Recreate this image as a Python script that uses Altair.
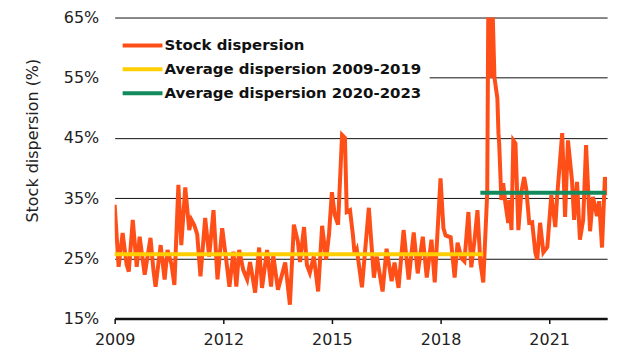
import altair as alt
import pandas as pd

# Stock dispersion (%)
years = [2009.00, 2009.11, 2009.22, 2009.33, 2009.39, 2009.50, 2009.61, 2009.69, 2009.83, 2009.99,
         2010.07, 2010.13, 2010.27, 2010.38, 2010.46, 2010.57, 2010.65, 2010.76, 2010.84, 2010.95,
         2011.06, 2011.12, 2011.20, 2011.28, 2011.37, 2011.50, 2011.61, 2011.73, 2011.84, 2011.97,
         2012.08, 2012.17, 2012.28, 2012.36, 2012.44, 2012.55, 2012.66, 2012.74, 2012.88, 2012.99,
         2013.07, 2013.21, 2013.32, 2013.38, 2013.51, 2013.71, 2013.84, 2013.95, 2014.06, 2014.12,
         2014.23, 2014.31, 2014.39, 2014.50, 2014.62, 2014.73, 2014.84, 2014.92, 2015.00, 2015.08,
         2015.17, 2015.28, 2015.36, 2015.41, 2015.50, 2015.58, 2015.63, 2015.69, 2015.83, 2016.02,
         2016.16, 2016.24, 2016.40, 2016.51, 2016.65, 2016.73, 2016.84, 2016.98, 2017.12, 2017.26,
         2017.37, 2017.51, 2017.62, 2017.75, 2017.84, 2018.00, 2018.08, 2018.14, 2018.28, 2018.39,
         2018.47, 2018.58, 2018.66, 2018.77, 2018.85, 2018.94, 2019.02, 2019.10, 2019.18, 2019.29,
         2019.32, 2019.38, 2019.43, 2019.49, 2019.57, 2019.60, 2019.62, 2019.68, 2019.73, 2019.79,
         2019.87, 2019.90, 2019.96, 2020.01, 2020.07, 2020.15, 2020.23, 2020.31, 2020.37, 2020.45,
         2020.53, 2020.62, 2020.67, 2020.75, 2020.84, 2020.95, 2021.06, 2021.17, 2021.22, 2021.36,
         2021.44, 2021.52, 2021.63, 2021.69, 2021.77, 2021.85, 2021.94, 2022.02, 2022.13, 2022.21,
         2022.32, 2022.38, 2022.46, 2022.54, 2022.60]
values = [33.9, 23.6, 29.2, 24.0, 22.8, 31.4, 23.6, 28.6, 22.3, 28.4,
          23.1, 20.3, 27.2, 21.5, 26.4, 24.0, 20.6, 37.2, 27.2, 36.8,
          29.7, 31.4, 30.5, 29.0, 22.0, 31.7, 25.3, 33.0, 21.5, 30.0,
          24.8, 20.3, 26.1, 20.3, 26.4, 23.1, 21.5, 24.4, 19.3, 26.8,
          20.1, 26.4, 20.3, 25.5, 19.8, 24.3, 17.3, 30.6, 27.8, 24.4,
          30.2, 23.9, 22.6, 25.3, 19.5, 30.4, 24.8, 29.0, 36.0, 32.2,
          30.6, 45.5, 45.0, 32.7, 33.0, 28.9, 25.5, 26.4, 20.2, 33.4,
          21.8, 25.3, 19.5, 26.6, 21.2, 24.3, 20.1, 29.7, 21.5, 29.3,
          22.5, 28.6, 21.8, 28.1, 21.0, 38.3, 30.0, 28.8, 28.5, 21.8,
          27.6, 25.0, 24.5, 32.7, 23.5, 28.1, 33.0, 24.3, 21.0, 35.9,
          68.0, 55.0, 68.0, 55.0, 51.6, 45.8, 44.1, 34.7, 37.5, 34.2,
          30.9, 34.7, 29.7, 44.6, 44.1, 29.7, 35.9, 38.5, 36.4, 30.9,
          31.0, 25.9, 24.8, 30.9, 26.0, 26.9, 35.5, 30.2, 35.2, 45.8,
          31.9, 44.6, 38.0, 31.4, 37.7, 28.1, 31.4, 43.8, 29.5, 35.2,
          32.0, 34.5, 26.8, 38.5, 35.5]

avg1_years = [2009.00, 2019.18]
avg1_values = [25.7, 25.7]
avg2_years = [2019.10, 2022.57]
avg2_values = [35.9, 35.9]

series_names = ["Stock dispersion", "Average dispersion 2009-2019", "Average dispersion 2020-2023"]
series_colors = ["#FF4F18", "#FFCE00", "#128A5D"]
x_ticks = [2009, 2012, 2015, 2018, 2021]
y_ticks = [15, 25, 35, 45, 55, 65]

stock = pd.DataFrame({"year": years, "value": values, "series": series_names[0]})
avg = pd.concat([
    pd.DataFrame({"year": avg1_years, "value": avg1_values, "series": series_names[1]}),
    pd.DataFrame({"year": avg2_years, "value": avg2_values, "series": series_names[2]}),
], ignore_index=True)

FONT = "DejaVu Sans"

x_enc = alt.X("year:Q",
              scale=alt.Scale(domain=[2009, 2022.6], nice=False, zero=False),
              axis=alt.Axis(values=x_ticks, format="d", title=None, grid=False,
                            domainColor="#111111", domainWidth=2.5,
                            tickColor="#111111", tickSize=5, tickWidth=1.5,
                            labelFont=FONT, labelFontSize=16, labelColor="#222222",
                            labelPadding=8, labelFlush=False))
y_enc = alt.Y("value:Q",
              scale=alt.Scale(domain=[15, 65], nice=False, zero=False),
              axis=alt.Axis(values=y_ticks, labelExpr="datum.value + '%'",
                            title="Stock dispersion (%)", grid=True,
                            gridColor="#111111", gridWidth=1, domain=False, ticks=False,
                            labelFont=FONT, labelFontSize=16, labelColor="#222222",
                            labelPadding=16,
                            titleFont=FONT, titleFontSize=16, titleFontWeight="normal",
                            titleColor="#222222", titleX=-82, titleY=123,
                            titleAlign="center", titleBaseline="middle"))
color_enc = alt.Color("series:N",
                      scale=alt.Scale(domain=series_names, range=series_colors),
                      legend=alt.Legend(title=None, orient="none", legendX=-2, legendY=8,
                                        symbolType="M-2,0H2", symbolSize=400,
                                        symbolStrokeWidth=4, symbolOffset=10,
                                        rowPadding=4,
                                        labelFont=FONT, labelFontWeight="bold",
                                        labelFontSize=15, labelColor="#111111",
                                        labelLimit=0, labelOffset=10,
                                        fillColor="white", padding=8))

stock_line = alt.Chart(stock).mark_line(strokeWidth=4, clip=True).encode(
    x=x_enc, y=y_enc, color=color_enc)
avg_line = alt.Chart(avg).mark_line(strokeWidth=4).encode(
    x=x_enc, y=y_enc, color=color_enc, detail="series:N")

chart = alt.layer(stock_line, avg_line).properties(
    width=494, height=302,
    autosize=alt.AutoSizeParams(type="none"),
    padding={"left": 107, "top": 9, "right": 25, "bottom": 40},
).configure_view(strokeWidth=0)

chart.save("out.html", embed_options={"renderer": "svg", "actions": False})
